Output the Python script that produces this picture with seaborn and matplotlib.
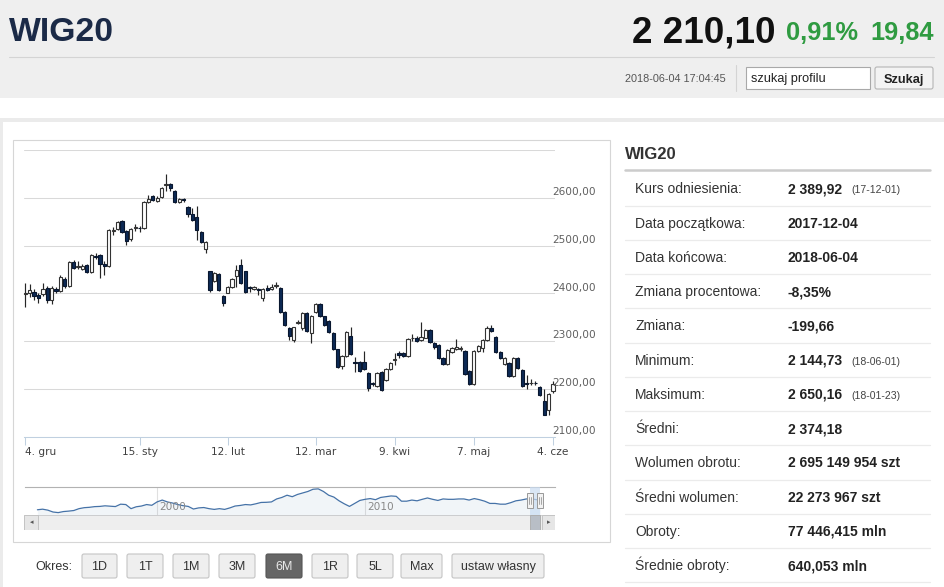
import numpy as np
import seaborn as sns
import matplotlib.pyplot as plt
from matplotlib.patches import Rectangle, FancyBboxPatch
from matplotlib.transforms import offset_copy

# notowania dzienne WIG20, 4.12.2017 - 4.06.2018
kurs_open = [2398, 2401, 2404, 2396, 2398, 2412, 2386, 2410, 2406, 2431,
             2416, 2465, 2456, 2451, 2460, 2444, 2478, 2480, 2462, 2458,
             2531, 2535, 2551, 2530, 2513, 2536, 2537, 2536, 2592, 2603,
             2594, 2602, 2626, 2629, 2614, 2592, 2597, 2581, 2566, 2560,
             2528, 2492, 2446, 2427, 2440, 2395, 2402, 2414, 2437, 2460,
             2446, 2414, 2410, 2410, 2390, 2412, 2410, 2416, 2412, 2361,
             2327, 2302, 2338, 2327, 2359, 2318, 2361, 2378, 2352, 2342,
             2317, 2283, 2249, 2270, 2312, 2257, 2257, 2257, 2234, 2212,
             2207, 2236, 2219, 2243, 2262, 2276, 2275, 2270, 2306, 2308,
             2302, 2308, 2323, 2296, 2293, 2266, 2253, 2277, 2283, 2284,
             2279, 2238, 2211, 2280, 2287, 2302, 2327, 2310, 2277, 2253,
             2255, 2228, 2266, 2241, 2212, 2212, 2213, 2205, 2175, 2156,
             2196]
kurs_close = [2401, 2407, 2395, 2391, 2410, 2386, 2412, 2405, 2435, 2416,
              2465, 2454, 2458, 2458, 2444, 2480, 2476, 2461, 2458, 2532,
              2532, 2549, 2528, 2509, 2534, 2538, 2536, 2591, 2598, 2596,
              2600, 2620, 2629, 2621, 2592, 2598, 2596, 2566, 2553, 2532,
              2507, 2507, 2408, 2442, 2408, 2380, 2414, 2431, 2450, 2422,
              2404, 2412, 2413, 2408, 2410, 2408, 2414, 2418, 2361, 2334,
              2312, 2329, 2340, 2359, 2321, 2353, 2378, 2352, 2334, 2319,
              2283, 2247, 2270, 2319, 2274, 2255, 2238, 2243, 2203, 2210,
              2234, 2198, 2243, 2255, 2264, 2272, 2270, 2304, 2308, 2300,
              2310, 2323, 2298, 2289, 2266, 2253, 2281, 2287, 2289, 2286,
              2232, 2211, 2279, 2290, 2302, 2327, 2321, 2277, 2266, 2266,
              2228, 2266, 2245, 2207, 2211, 2213, 2212, 2188, 2146, 2190,
              2210]
kurs_high = [2422, 2420, 2410, 2400, 2422, 2415, 2415, 2414, 2438, 2434,
             2467, 2470, 2468, 2461, 2462, 2482, 2484, 2482, 2468, 2534,
             2538, 2551, 2553, 2532, 2536, 2546, 2542, 2593, 2606, 2606,
             2603, 2622, 2650, 2631, 2616, 2600, 2600, 2583, 2579, 2583,
             2530, 2509, 2448, 2444, 2442, 2397, 2416, 2433, 2460, 2473,
             2448, 2416, 2415, 2412, 2412, 2418, 2420, 2424, 2414, 2363,
             2329, 2331, 2344, 2361, 2361, 2355, 2380, 2380, 2354, 2344,
             2319, 2285, 2272, 2321, 2330, 2268, 2259, 2280, 2236, 2214,
             2236, 2238, 2245, 2257, 2276, 2280, 2278, 2306, 2316, 2312,
             2340, 2325, 2325, 2298, 2295, 2268, 2283, 2289, 2305, 2290,
             2281, 2240, 2281, 2292, 2304, 2332, 2334, 2312, 2280, 2268,
             2257, 2268, 2268, 2243, 2230, 2222, 2218, 2207, 2200, 2192,
             2217]
kurs_low = [2372, 2393, 2386, 2380, 2395, 2380, 2378, 2400, 2404, 2412,
            2414, 2452, 2451, 2449, 2442, 2443, 2472, 2433, 2438, 2456,
            2522, 2533, 2526, 2502, 2510, 2530, 2528, 2534, 2590, 2594,
            2592, 2600, 2614, 2614, 2590, 2590, 2592, 2560, 2551, 2511,
            2505, 2484, 2403, 2424, 2406, 2374, 2400, 2412, 2414, 2420,
            2402, 2404, 2408, 2396, 2384, 2406, 2408, 2412, 2359, 2332,
            2302, 2299, 2336, 2324, 2319, 2296, 2359, 2350, 2332, 2317,
            2281, 2245, 2243, 2268, 2272, 2235, 2236, 2241, 2197, 2206,
            2205, 2196, 2217, 2241, 2250, 2266, 2268, 2268, 2300, 2298,
            2300, 2306, 2296, 2283, 2264, 2251, 2251, 2275, 2281, 2280,
            2230, 2209, 2209, 2278, 2278, 2300, 2319, 2275, 2264, 2251,
            2226, 2226, 2243, 2205, 2200, 2208, 2208, 2186, 2146, 2145,
            2193]

daty_pozycje = [0, 26, 46, 66, 84, 102, 120]
daty_etykiety = ['4. gru', '15. sty', '12. lut', '12. mar', '9. kwi', '7. maj', '4. cze']
poziomy = [2100, 2200, 2300, 2400, 2500, 2600, 2700]
poziomy_etykiety = ['2100,00', '2200,00', '2300,00', '2400,00', '2500,00', '2600,00', '']

# nawigator - historia WIG20 (kwartalnie)
nav_lata = list(np.arange(1994.25, 2018.26, 0.25)) + [2018.42]
nav_wartosci = [1000, 1080, 950, 700, 620, 760, 820, 900, 1150, 1280, 1330, 1420,
                1450, 1530, 1480, 1430, 1750, 1700, 1150, 1400, 1500, 1700, 1600, 2050,
                2300, 2050, 1900, 1700, 1550, 1450, 1100, 1250, 1300, 1150, 1050, 1150,
                1050, 1250, 1500, 1580, 1700, 1650, 1800, 1980, 2000, 2050, 2450, 2650,
                2950, 2750, 3050, 3250, 3450, 3750, 3800, 3450, 2950, 2700, 2200, 1800,
                1450, 1850, 2250, 2400, 2500, 2350, 2650, 2750, 2850, 2800, 2150, 2150,
                2300, 2200, 2400, 2580, 2400, 2250, 2450, 2400, 2400, 2450, 2450, 2300,
                2500, 2350, 2150, 1850, 1850, 1750, 1750, 1950, 2200, 2300, 2450, 2450,
                2350, 2210]

# tabela ze statystykami
stat_nazwy = ['Kurs odniesienia:', 'Data początkowa:', 'Data końcowa:', 'Zmiana procentowa:',
              'Zmiana:', 'Minimum:', 'Maksimum:', 'Średni:', 'Wolumen obrotu:',
              'Średni wolumen:', 'Obroty:', 'Średnie obroty:']
stat_wartosci = ['2 389,92', '2017-12-04', '2018-06-04', '-8,35%', '-199,66', '2 144,73',
                 '2 650,16', '2 374,18', '2 695 149 954 szt', '22 273 967 szt',
                 '77 446,415 mln', '640,053 mln']
stat_daty = ['(17-12-01)', '', '', '', '', '(18-06-01)', '(18-01-23)', '', '', '', '', '']

okresy = ['1D', '1T', '1M', '3M', '6M', '1R', '5L', 'Max', 'ustaw własny']
okres_aktywny = '6M'

# --- wyglad ---
sns.set_theme(style="white")
plt.rcParams['font.family'] = ['Liberation Sans', 'DejaVu Sans']

W, H = 945, 587
fig = plt.figure(figsize=(W / 100, H / 100), dpi=100)


def px_axes(x0, y0, x1, y1):
    return fig.add_axes([x0 / W, 1 - y1 / H, (x1 - x0) / W, (y1 - y0) / H])


page = fig.add_axes([0, 0, 1, 1])
page.set_xlim(0, W)
page.set_ylim(H, 0)
page.axis('off')


def rect(x0, y0, x1, y1, **kw):
    page.add_patch(Rectangle((x0, y0), x1 - x0, y1 - y0, **kw))


# naglowek
rect(0, 0, W, 98, fc='#efefef', ec='none')
page.plot([9, 934], [56.5, 56.5], color='#d4d4d4', lw=0.8)
page.plot([735.5, 735.5], [65, 91], color='#d4d4d4', lw=0.8)
rect(746, 67, 870, 89, fc='white', ec='#a9a9a9', lw=0.8)
page.add_patch(FancyBboxPatch((875, 67), 58, 22, boxstyle='round,pad=0,rounding_size=2',
                              fc='#f3f3f3', ec='#b5b5b5', lw=0.8))
page.text(9, 41, 'WIG20', fontsize=24.3, weight='bold', color='#1b2a47', va='baseline')
page.text(775, 42, '2 210,10', fontsize=26.5, weight='bold', color='#111111', va='baseline', ha='right')
page.text(858, 40, '0,91%', fontsize=18.3, weight='bold', color='#2f9b41', va='baseline', ha='right')
page.text(934, 40, '19,84', fontsize=18.3, weight='bold', color='#2f9b41', va='baseline', ha='right')
page.text(726, 82, '2018-06-04 17:04:45', fontsize=7.8, color='#555555', va='baseline', ha='right')
page.text(751, 82, 'szukaj profilu', fontsize=9.2, color='#222222', va='baseline')
page.text(904, 83, 'Szukaj', fontsize=9.2, weight='bold', color='#222222', va='baseline', ha='center')

# tlo panelu
rect(0, 118, W, H, fc='#ebebeb', ec='none')
rect(3, 122, W, H, fc='white', ec='none')
rect(13, 140, 610, 542, fc='white', ec='#d6d6d6', lw=0.8)

# tabela
page.text(625, 159, 'WIG20', fontsize=12, weight='bold', color='#333333', va='baseline')
page.plot([625, 930], [170, 170], color='#cccccc', lw=1.8)
for k, (naz, wart, dat) in enumerate(zip(stat_nazwy, stat_wartosci, stat_daty)):
    yb = 193.3 + 34.25 * k
    page.text(635, yb, naz, fontsize=10, color='#333333', va='baseline')
    page.text(788, yb, wart, fontsize=10, weight='bold', color='#222222', va='baseline')
    if dat:
        page.text(851, yb, dat, fontsize=7.6, color='#444444', va='baseline')
    page.plot([625, 930], [205.7 + 34.25 * k] * 2, color='#ebebeb', lw=0.9)

# przyciski okresu
page.text(35, 570, 'Okres:', fontsize=9, color='#333333', va='baseline')
przyciski_x = [(82, 117), (127, 163), (173, 209), (219, 255), (266, 302),
               (312, 348), (357, 393), (401, 442), (452, 544)]
for (x0, x1), lab in zip(przyciski_x, okresy):
    aktywny = lab == okres_aktywny
    page.add_patch(FancyBboxPatch((x0, 554), x1 - x0, 24, boxstyle='round,pad=0,rounding_size=2',
                                  fc='#666666' if aktywny else '#efefef',
                                  ec='#555555' if aktywny else '#c4c4c4', lw=0.8))
    page.text((x0 + x1) / 2, 570, lab, fontsize=9, ha='center', va='baseline',
              color='#e8e8e8' if aktywny else '#333333')

# wykres swiecowy
ax = px_axes(24.5, 150, 555, 437)
ax.set_facecolor('none')
idx = np.arange(len(kurs_close))
o = np.array(kurs_open)
c = np.array(kurs_close)
wzrost = c >= o
ax.vlines(idx, kurs_low, kurs_high, color='#262626', lw=0.85, zorder=2, clip_on=False)
dol = np.minimum(o, c)
wys = np.maximum(np.abs(c - o), 1.2)
ax.bar(idx, wys, bottom=dol, width=0.74, zorder=3, clip_on=False,
       color=np.where(wzrost, 'white', '#0d2a55'),
       edgecolor=np.where(wzrost, '#333333', '#08162e'), linewidth=0.8)
ax.set_xlim(-0.18, 120.45)
ax.set_ylim(2100, 2700)
ax.set_yticks(poziomy)
ax.yaxis.grid(True, color='#d9d9d9', lw=0.75)
ax.set_axisbelow(True)
ax.tick_params(axis='y', length=0, labelleft=False)
ax.set_xticks(daty_pozycje, daty_etykiety)
ax.tick_params(axis='x', direction='out', length=5.8, width=0.75, color='#c0d0e0',
               labelsize=7.6, labelcolor='#404040', pad=1.5, bottom=True)
for t in ax.get_xticklabels():
    t.set_family('DejaVu Sans')
ax.get_xticklabels()[0].set_ha('left')
for s in ['top', 'left', 'right']:
    ax.spines[s].set_visible(False)
ax.spines['bottom'].set_color('#c0d0e0')
ax.spines['bottom'].set_linewidth(0.75)
tr = offset_copy(ax.get_yaxis_transform(), fig=fig, x=0, y=4.3, units='points')
for v, lab in zip(poziomy, poziomy_etykiety):
    ax.text(0.9943, v, lab, transform=tr, ha='left', va='center', fontsize=7.6,
            color='#606060', family='DejaVu Sans')

# nawigator (z paskiem przewijania)
nav = px_axes(24.5, 487, 555, 530)
nav.set_facecolor('none')
nav.set_xlim(1993.63, 2019.13)
nav.set_ylim(-1709, 4050)
sc = 15 / 43
nav.add_patch(Rectangle((0, 0), 1, sc, transform=nav.transAxes, fc='#eeeeee', ec='#d0d0d0', lw=0.7))
nav.add_patch(Rectangle((0, 0), 13.5 / 530.5, sc, transform=nav.transAxes, fc='#e6e6e6', ec='#c4c4c4', lw=0.7))
nav.add_patch(Rectangle((517.5 / 530.5, 0), 13 / 530.5, sc, transform=nav.transAxes, fc='#e6e6e6', ec='#c4c4c4', lw=0.7))
nav.text(6.75 / 530.5, sc / 2, '◂', transform=nav.transAxes, ha='center', va='center', fontsize=5, color='#555555', family='DejaVu Sans')
nav.text(524 / 530.5, sc / 2, '▸', transform=nav.transAxes, ha='center', va='center', fontsize=5, color='#555555', family='DejaVu Sans')
for rok in [2000, 2010]:
    nav.axvline(rok, ymin=sc, ymax=1, color='#e0e0e0', lw=0.8, zorder=0)
trn = offset_copy(nav.get_xaxis_transform(), fig=fig, x=1.5, y=0, units='points')
nav.text(2000, 0.535, '2000', transform=trn, fontsize=7.6, color='#888888', va='center', family='DejaVu Sans')
nav.text(2010, 0.535, '2010', transform=trn, fontsize=7.6, color='#888888', va='center', family='DejaVu Sans')
nav.fill_between(nav_lata, nav_wartosci, 300, color='#4572a7', alpha=0.07, lw=0)
sns.lineplot(x=nav_lata, y=nav_wartosci, ax=nav, color='#4572a7', lw=0.9)
sel0, sel1 = 2017.92, 2018.42
xtr = nav.get_xaxis_transform()
nav.add_patch(Rectangle((sel0, 0), sel1 - sel0, sc, transform=xtr, fc='#b8bec6', ec='#aaaaaa', lw=0.6, zorder=3))
nav.axvspan(sel0, sel1, ymin=sc, ymax=1, color='#c9dcf2', alpha=0.7, lw=0, zorder=3)
for hx in [sel0, sel1]:
    nav.add_patch(Rectangle((hx - 0.14, 0.51), 0.28, 0.35, transform=xtr, fc='#f2f2f2', ec='#999999', lw=0.7, zorder=4))
    for dx in [-0.04, 0.04]:
        nav.plot([hx + dx, hx + dx], [0.6, 0.77], transform=xtr, color='#999999', lw=0.6, zorder=5)
nav.set_xlabel('')
nav.set_ylabel('')
nav.set_xticks([])
nav.set_yticks([])
for s in ['left', 'right', 'bottom']:
    nav.spines[s].set_visible(False)
nav.spines['top'].set_color('#b2b2b2')
nav.spines['top'].set_linewidth(0.8)

fig.savefig('out.png', dpi=100)
